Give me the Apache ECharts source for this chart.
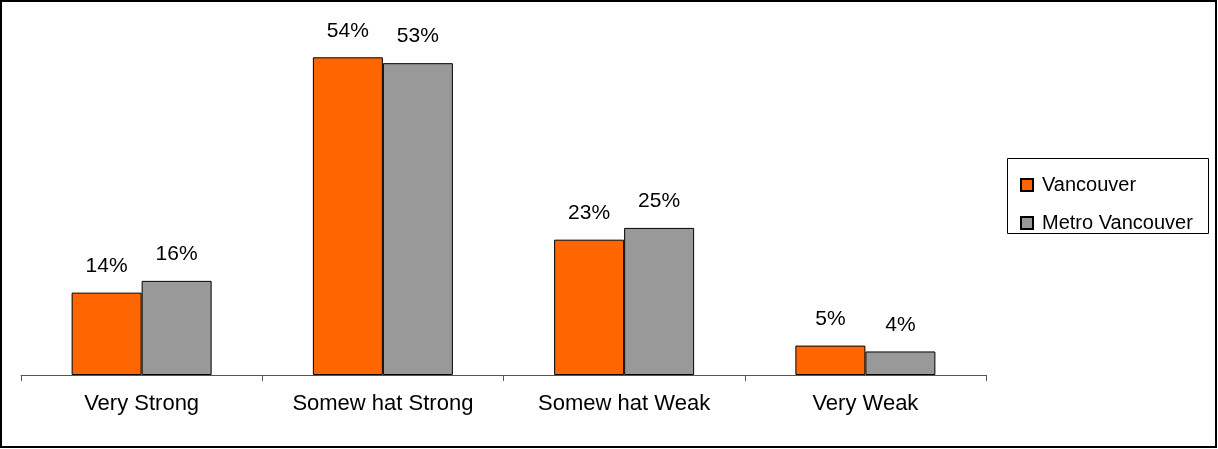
<!DOCTYPE html>
<html>
<head>
<meta charset="utf-8">
<script src="https://cdn.jsdelivr.net/npm/echarts@6/dist/echarts.min.js"></script>
<style>
html,body{margin:0;padding:0;background:#fff;}
#chart{width:1218px;height:449px;}
</style>
</head>
<body>
<div id="chart"></div>
<script>
const categories = ['Very Strong', 'Somew hat Strong', 'Somew hat Weak', 'Very Weak'];
const vancouver = [14, 54, 23, 5];
const metroVancouver = [16, 53, 25, 4];
const seriesNames = ['Vancouver', 'Metro Vancouver'];

const FONT = "'Liberation Sans', Arial, sans-serif";
const chart = echarts.init(document.getElementById('chart'));
const labelCfg = {
  show: true,
  position: 'top',
  distance: 16,
  formatter: '{c}%',
  color: '#000',
  fontSize: 21,
  fontFamily: FONT
};
chart.setOption({
  animation: false,
  backgroundColor: '#fff',
  grid: { left: 21, right: 232, top: 22, bottom: 74, containLabel: false },
  xAxis: {
    type: 'category',
    data: categories,
    axisLine: { show: true, lineStyle: { color: '#555', width: 1 } },
    axisTick: { show: true, length: 6, lineStyle: { color: '#555' }, alignWithLabel: false },
    axisLabel: { color: '#000', fontSize: 22, fontFamily: FONT, margin: 18 },
    splitLine: { show: false }
  },
  yAxis: { type: 'value', min: 0, max: 60, show: false, splitLine: { show: false } },
  legend: {
    orient: 'vertical',
    left: 1015,
    top: 170,
    itemWidth: 12,
    itemHeight: 12,
    itemGap: 18,
    icon: 'rect',
    textStyle: { color: '#000', fontSize: 20, fontFamily: FONT, padding: [0, 0, 0, 4] },
    data: seriesNames
  },
  graphic: [
    { type: 'rect', shape: { x: 1, y: 1, width: 1215, height: 446 }, style: { fill: 'none', stroke: '#000', lineWidth: 2 }, silent: true },
    { type: 'rect', shape: { x: 1007.5, y: 158.5, width: 201, height: 75 }, style: { fill: 'none', stroke: '#000', lineWidth: 1 }, silent: true }
  ],
  series: [
    {
      name: seriesNames[0], type: 'bar', data: vancouver, barWidth: 70, barGap: '0%',
      itemStyle: { color: '#FF6600', borderColor: '#000', borderWidth: 1 },
      label: labelCfg
    },
    {
      name: seriesNames[1], type: 'bar', data: metroVancouver, barWidth: 70, barGap: '0%',
      itemStyle: { color: '#999999', borderColor: '#000', borderWidth: 1 },
      label: labelCfg
    }
  ]
});
</script>
</body>
</html>
